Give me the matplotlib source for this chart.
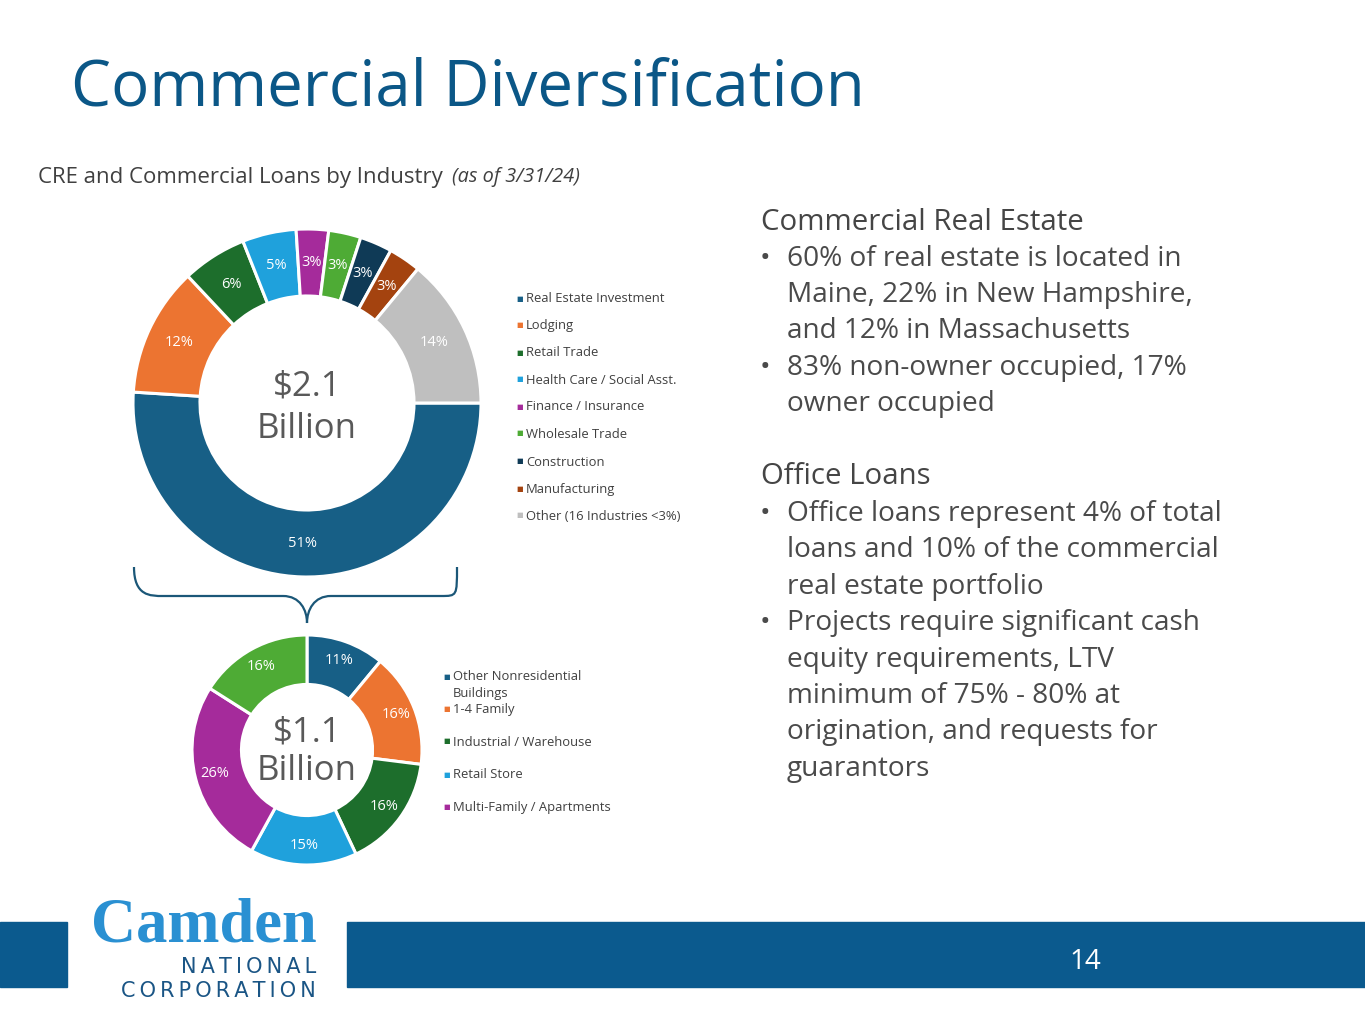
import math
import matplotlib
matplotlib.use("Agg")
import matplotlib.pyplot as plt
from matplotlib.path import Path
from matplotlib.patches import PathPatch, Rectangle

# ---------------- data ----------------
industry_labels = ["Real Estate Investment", "Lodging", "Retail Trade",
                   "Health Care / Social Asst.", "Finance / Insurance",
                   "Wholesale Trade", "Construction", "Manufacturing",
                   "Other (16 Industries <3%)"]
industry_values = [51, 12, 6, 5, 3, 3, 3, 3, 14]
industry_colors = ["#175f86", "#ec7431", "#1d6e2c", "#1fa1dc", "#a52b9b",
                   "#4eab35", "#0f3a56", "#a4430f", "#bfbfbf"]

re_labels = ["Other Nonresidential\nBuildings", "1-4 Family",
             "Industrial / Warehouse", "Retail Store",
             "Multi-Family / Apartments", "Other"]
re_values = [11, 16, 16, 15, 26, 16]
re_colors = ["#175f86", "#ec7431", "#1d6e2c", "#1fa1dc", "#a52b9b", "#4eab35"]
re_legend_count = 5

big_total = ["$2.1", "Billion"]
small_total = ["$1.1", "Billion"]

W, H = 1365, 1024
fig = plt.figure(figsize=(W / 100, H / 100), dpi=100)
fig.patch.set_facecolor("white")

BODY = ["Open Sans", "DejaVu Sans"]
GRAY = "#404040"
NAVY = "#0b5787"


def fx(x):
    return x / W


def fy(y):
    return 1 - y / H


def donut(cx, cy, r, width, values, colors, startangle, pctd, labsize):
    ax = fig.add_axes([fx(cx - r), fy(cy + r), 2 * r / W, 2 * r / H])
    ax.pie(values, colors=colors, startangle=startangle,
           counterclock=False, radius=1,
           wedgeprops=dict(width=width, edgecolor="white", linewidth=2.2))
    total = sum(values)
    ang = startangle
    for v in values:
        mid = ang - v / total * 360 / 2
        ang -= v / total * 360
        x = pctd * math.cos(math.radians(mid))
        y = pctd * math.sin(math.radians(mid))
        ax.text(x, y, f"{v}%", ha="center", va="center", color="white",
                fontsize=labsize, family=BODY)
    ax.set_xlim(-1, 1)
    ax.set_ylim(-1, 1)
    ax.set_aspect("equal")
    ax.axis("off")
    return ax


# big donut
donut(307, 403, 174, 0.385, industry_values, industry_colors, 0, 0.81, 10.5)
fig.text(fx(307), fy(386), big_total[0], ha="center", va="center",
         fontsize=25, color="#595959", family=BODY)
fig.text(fx(307), fy(429), big_total[1], ha="center", va="center",
         fontsize=25, color="#595959", family=BODY)

# small donut
donut(307, 750, 115, 0.43, re_values, re_colors, 90, 0.83, 10.5)
fig.text(fx(307), fy(732), small_total[0], ha="center", va="center",
         fontsize=25, color="#595959", family=BODY)
fig.text(fx(307), fy(771), small_total[1], ha="center", va="center",
         fontsize=25, color="#595959", family=BODY)

# legends (big)
leg_y = [299, 326, 353, 380, 407, 434, 462, 489, 516]
for lab, col, y in zip(industry_labels, industry_colors, leg_y):
    fig.text(fx(516), fy(y), "\u25a0", ha="left", va="center", fontsize=5,
             color=col, family=BODY)
    fig.text(fx(526), fy(y), lab, ha="left", va="center", fontsize=9.4,
             color=GRAY, family=BODY)

# legends (small)
leg2_y = [685, 710, 742, 775, 807]
for lab, col, y in zip(re_labels[:re_legend_count], re_colors, leg2_y):
    if "\n" in lab:
        first, second = lab.split("\n")
        fig.text(fx(443), fy(677), "\u25a0", ha="left", va="center", fontsize=5,
                 color=col, family=BODY)
        fig.text(fx(453), fy(677), first, ha="left", va="center",
                 fontsize=9.4, color=GRAY, family=BODY)
        fig.text(fx(453), fy(693), second, ha="left", va="center",
                 fontsize=9.4, color=GRAY, family=BODY)
    else:
        fig.text(fx(443), fy(y), "\u25a0", ha="left", va="center", fontsize=5,
                 color=col, family=BODY)
        fig.text(fx(453), fy(y), lab, ha="left", va="center", fontsize=9.4,
                 color=GRAY, family=BODY)

# brace
verts = [(134, 567), (134, 596), (150, 596), (163, 596),
         (283, 596),
         (300, 596), (307, 610), (307, 623),
         (307, 610), (314, 596), (331, 596),
         (441, 596),
         (457, 596), (457, 596), (457, 567)]
codes = [Path.MOVETO, Path.CURVE4, Path.CURVE4, Path.CURVE4,
         Path.LINETO,
         Path.CURVE4, Path.CURVE4, Path.CURVE4,
         Path.CURVE4, Path.CURVE4, Path.CURVE4,
         Path.LINETO,
         Path.CURVE4, Path.CURVE4, Path.CURVE4]
pverts = [(fx(x), fy(y)) for x, y in verts]
fig.patches.append(PathPatch(Path(pverts, codes), transform=fig.transFigure,
                             fill=False, edgecolor="#1b5778", linewidth=1.6))

# title
fig.text(fx(71), fy(88), "Commercial Diversification", ha="left", va="center",
         fontsize=45.8, color=NAVY, family=BODY)
fig.text(fx(38), fy(177), "CRE and Commercial Loans by Industry", ha="left",
         va="center", fontsize=16, color=GRAY, family=BODY)
fig.text(fx(452), fy(177), "(as of 3/31/24)", ha="left", va="center",
         fontsize=14.3, color=GRAY, family=BODY, style="italic")

# right text
lines = [
    (222, None, "Commercial Real Estate"),
    (259, "\u2022", "60% of real estate is located in"),
    (295, None, "Maine, 22% in New Hampshire,"),
    (331, None, "and 12% in Massachusetts"),
    (368, "\u2022", "83% non-owner occupied, 17%"),
    (404, None, "owner occupied"),
    (477, None, "Office Loans"),
    (514, "\u2022", "Office loans represent 4% of total"),
    (550, None, "loans and 10% of the commercial"),
    (587, None, "real estate portfolio"),
    (623, "\u2022", "Projects require significant cash"),
    (660, None, "equity requirements, LTV"),
    (696, None, "minimum of 75% - 80% at"),
    (732, None, "origination, and requests for"),
    (769, None, "guarantors"),
]
headings = ("Commercial Real Estate", "Office Loans")
for y, bullet, txt in lines:
    if txt in headings:
        fig.text(fx(761), fy(y), txt, ha="left", va="center", fontsize=21.2,
                 color="#454545", family=BODY, weight="medium")
    else:
        if bullet:
            fig.text(fx(760), fy(y), bullet, ha="left", va="center", fontsize=20.3,
                     color="#4a4a4a", family=BODY)
        fig.text(fx(787), fy(y), txt, ha="left", va="center", fontsize=20.2,
                 color="#4a4a4a", family=BODY)

# footer band
band = "#0b5a8e"
fig.patches.append(Rectangle((fx(0), fy(987)), fx(67), (987 - 922) / H,
                             transform=fig.transFigure, color=band))
fig.patches.append(Rectangle((fx(347), fy(987)), fx(1365 - 347), (987 - 922) / H,
                             transform=fig.transFigure, color=band))
fig.text(fx(1085), fy(962), "14", ha="center", va="center", fontsize=20,
         color="white", family=BODY)

# logo
fig.text(fx(317), fy(926), "Camden", ha="right", va="center", fontsize=45,
         color="#2a90d2", family=["Liberation Serif"], weight="bold")
sp = "\u2009"
fig.text(fx(316), fy(967), sp.join("NATIONAL"), ha="right", va="center",
         fontsize=15, color="#1a5585", family=["DejaVu Sans"])
fig.text(fx(316), fy(991), sp.join("CORPORATION"), ha="right", va="center",
         fontsize=15, color="#1a5585", family=["DejaVu Sans"])

fig.savefig("out.png", dpi=100)
